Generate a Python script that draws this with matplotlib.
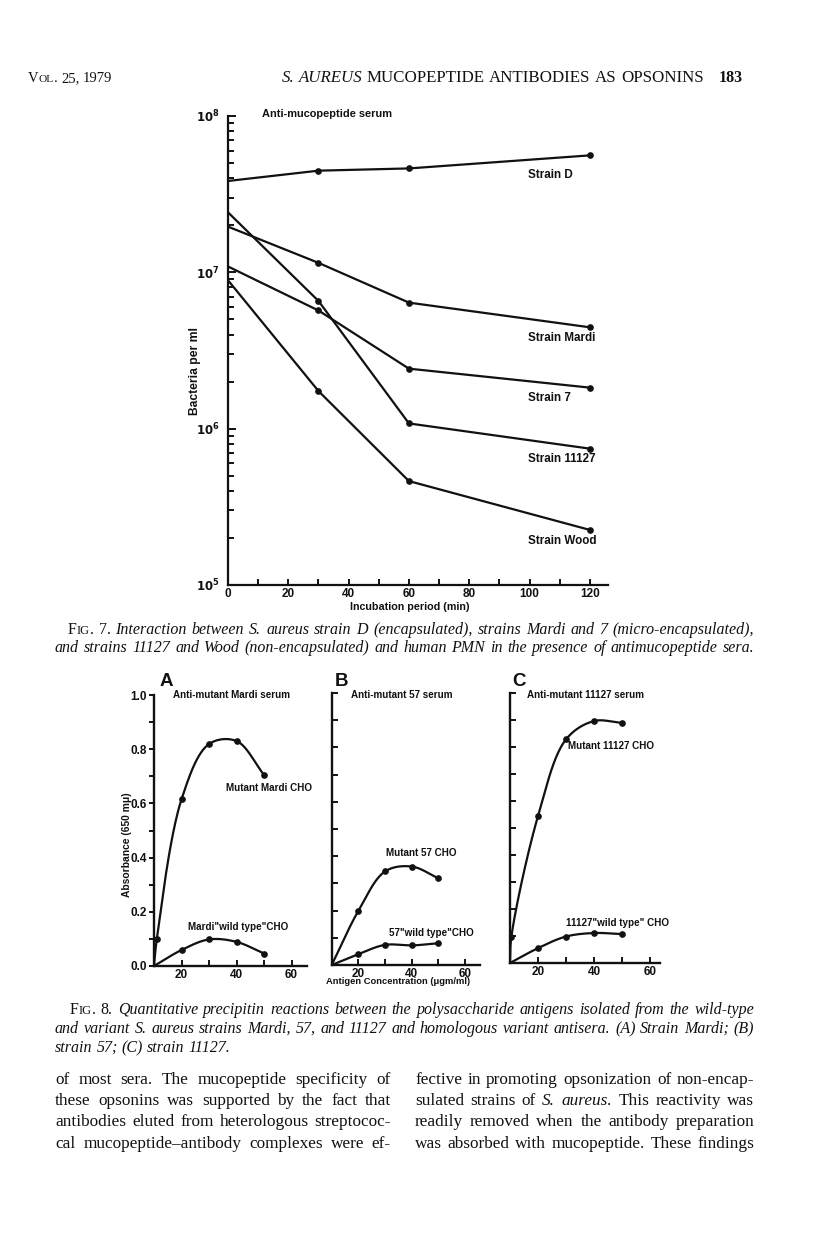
import numpy as np
import matplotlib
matplotlib.use("Agg")
import matplotlib.pyplot as plt
from matplotlib.ticker import FixedLocator, NullFormatter, LogLocator

# ---------------- data ----------------
# Fig. 7: bacteria per ml vs incubation period (min)
fig7_time = [0, 30, 60, 120]
fig7_names = ["Strain D", "Strain Mardi", "Strain 7", "Strain 11127", "Strain Wood"]
strain_d = [3.84e7, 4.47e7, 4.62e7, 5.6e7]
strain_mardi = [1.96e7, 1.15e7, 6.4e6, 4.45e6]
strain_7 = [1.09e7, 5.7e6, 2.42e6, 1.83e6]
strain_11127 = [2.42e7, 6.56e6, 1.08e6, 7.45e5]
strain_wood = [8.9e6, 1.74e6, 4.62e5, 2.25e5]
fig7_xticks = [0, 20, 40, 60, 80, 100, 120]
fig7_yticks = [1e5, 1e6, 1e7, 1e8]
fig7_ylabels = [r"$\mathbf{10^5}$", r"$\mathbf{10^6}$", r"$\mathbf{10^7}$", r"$\mathbf{10^8}$"]

# Fig. 8: absorbance (650 m\u03bc) vs antigen concentration (ugm/ml)
conc = [20, 30, 40, 50]
a_mutant_conc = [11, 20, 30, 40, 50]
a_mutant_abs = [0.098, 0.615, 0.819, 0.830, 0.705]
a_wild_abs = [0.059, 0.098, 0.089, 0.046]
b_mutant_abs = [0.199, 0.344, 0.362, 0.319]
b_wild_abs = [0.040, 0.074, 0.072, 0.080]
c_mutant_conc = [10.5, 20, 30, 40, 50]
c_mutant_abs = [0.098, 0.544, 0.828, 0.896, 0.889]
c_wild_abs = [0.055, 0.098, 0.111, 0.107]
fig8_xticks = [20, 40, 60]
fig8_yticks = [0.0, 0.2, 0.4, 0.6, 0.8, 1.0]
fig8_ylabels = ["0.0", "0.2", "0.4", "0.6", "0.8", "1.0"]

# ---------------- figure ----------------
W, H = 816, 1235
fig = plt.figure(figsize=(W / 100, H / 100), dpi=100)
fig.patch.set_facecolor("white")
renderer = fig.canvas.get_renderer()
SANS = "Liberation Sans"
SERIF = "Liberation Serif"
INK = "#111111"


def box(l, t, r, b):
    return [l / W, 1 - b / H, (r - l) / W, (b - t) / H]


def measure(s, size, **kw):
    t = fig.text(0, 0, s, fontsize=size, **kw)
    w = t.get_window_extent(renderer).width
    t.remove()
    return w


def fit_text(s, x0, x1, yc, **kw):
    size = 10 * (x1 - x0) / measure(s, 10, **kw)
    fig.text((x0 + x1) / 2 / W, 1 - yc / H, s, fontsize=size,
             ha="center", va="center", color=INK, **kw)
    return size


def catmull(ax, xs, ys, n=40, alpha=0.5):
    P = ax.transData.transform(np.column_stack([xs, ys]))
    ext = np.vstack([2 * P[0] - P[1], P, 2 * P[-1] - P[-2]])
    out = []
    for i in range(1, len(ext) - 2):
        p0, p1, p2, p3 = ext[i - 1:i + 3]
        t0 = 0.0
        t1 = t0 + np.linalg.norm(p1 - p0) ** alpha
        t2 = t1 + np.linalg.norm(p2 - p1) ** alpha
        t3 = t2 + np.linalg.norm(p3 - p2) ** alpha
        t = np.linspace(t1, t2, n)[:, None]
        A1 = (t1 - t) / (t1 - t0) * p0 + (t - t0) / (t1 - t0) * p1
        A2 = (t2 - t) / (t2 - t1) * p1 + (t - t1) / (t2 - t1) * p2
        A3 = (t3 - t) / (t3 - t2) * p2 + (t - t2) / (t3 - t2) * p3
        B1 = (t2 - t) / (t2 - t0) * A1 + (t - t0) / (t2 - t0) * A2
        B2 = (t3 - t) / (t3 - t1) * A2 + (t - t1) / (t3 - t1) * A3
        C = (t2 - t) / (t2 - t1) * B1 + (t - t1) / (t2 - t1) * B2
        out.append(C if i == 1 else C[1:])
    return ax.transData.inverted().transform(np.vstack(out))


# ---------------- Fig. 7 ----------------
ax7 = fig.add_axes(box(228, 116, 608, 585))
ax7.set_yscale("log")
ax7.set_xlim(0, 126)
ax7.set_ylim(1e5, 1e8)
for sp in ("top", "right"):
    ax7.spines[sp].set_visible(False)
for sp in ("left", "bottom"):
    ax7.spines[sp].set_linewidth(1.6)
    ax7.spines[sp].set_color(INK)
ax7.xaxis.set_major_locator(FixedLocator(fig7_xticks))
ax7.xaxis.set_minor_locator(FixedLocator([10, 30, 50, 70, 90, 110]))
ax7.yaxis.set_major_locator(FixedLocator(fig7_yticks))
ax7.set_yticklabels(fig7_ylabels)
ax7.yaxis.set_minor_locator(LogLocator(base=10, subs=np.arange(2, 10)))
ax7.yaxis.set_minor_formatter(NullFormatter())
ax7.tick_params(axis="both", which="both", direction="in", width=1.4, color=INK,
                labelsize=8.5, labelcolor=INK)
ax7.tick_params(axis="x", which="both", length=4.5, pad=2.5)
ax7.tick_params(axis="y", which="major", length=6, pad=6)
ax7.tick_params(axis="y", which="minor", length=4.5)
for lab in ax7.get_xticklabels():
    lab.set_fontfamily(SANS)
    lab.set_fontweight("bold")

series7 = [strain_d, strain_mardi, strain_7, strain_11127, strain_wood]
label_drop = [20, 11, 10, 10, 11]
for name, vals, drop in zip(fig7_names, series7, label_drop):
    ax7.plot(fig7_time, vals, color=INK, lw=1.6, marker="o", ms=3.8,
             markevery=[1, 2, 3], solid_joinstyle="miter")
    ax7.annotate(name, xy=(fig7_time[-1], vals[-1]), xytext=(-62, -drop),
                 textcoords="offset pixels", ha="left", va="center",
                 fontsize=8.4, fontweight="bold", family=SANS, color=INK)

fit_text("Anti-mucopeptide serum", 263, 392, 114, family=SANS, fontweight="bold")
fit_text("Incubation period (min)", 350, 470, 607, family=SANS, fontweight="bold")
sz = 10 * 88 / measure("Bacteria per ml", 10, family=SANS, fontweight="bold")
fig.text(195 / W, 1 - 371 / H, "Bacteria per ml", rotation=90, fontsize=sz,
         ha="center", va="center", family=SANS, fontweight="bold", color=INK)

# ---------------- Fig. 8 ----------------
LAB8 = 10 * 117 / measure("Anti-mutant Mardi serum", 10, family=SANS, fontweight="bold")

panels = [
    dict(rect=(154, 695, 306.7, 966), xmax=65.5, letter="A", lx=166,
         title="Anti-mutant Mardi serum", tx=173,
         mut=(a_mutant_conc, a_mutant_abs), wild=a_wild_abs,
         mlab=("Mutant Mardi CHO", 226, 788),
         wlab=('Mardi"wild type"CHO', 188, 927)),
    dict(rect=(331.7, 693, 480, 965), xmax=65.6, letter="B", lx=342,
         title="Anti-mutant 57 serum", tx=351,
         mut=(conc, b_mutant_abs), wild=b_wild_abs,
         mlab=("Mutant 57 CHO", 386, 853),
         wlab=('57"wild type"CHO', 389, 933)),
    dict(rect=(510, 693, 660, 963), xmax=63.6, letter="C", lx=519,
         title="Anti-mutant 11127 serum", tx=527,
         mut=(c_mutant_conc, c_mutant_abs), wild=c_wild_abs,
         mlab=("Mutant 11127 CHO", 568, 746),
         wlab=('11127"wild type" CHO', 566, 923)),
]


def label8(s, x, y):
    fig.text(x / W, 1 - y / H, s, fontsize=LAB8, ha="left", va="center",
             family=SANS, fontweight="bold", color=INK)


for i, p in enumerate(panels):
    l, t, r, b = p["rect"]
    ax = fig.add_axes(box(l, t, r, b))
    ax.set_xlim(10, p["xmax"])
    ax.set_ylim(0, 1.0)
    for sp in ("top", "right"):
        ax.spines[sp].set_visible(False)
    for sp in ("left", "bottom"):
        ax.spines[sp].set_linewidth(1.7)
        ax.spines[sp].set_color(INK)
    ax.xaxis.set_major_locator(FixedLocator(fig8_xticks))
    ax.xaxis.set_minor_locator(FixedLocator([30, 50]))
    ax.yaxis.set_major_locator(FixedLocator(np.round(np.arange(0, 1.01, 0.1), 2)))
    if i == 0:
        ax.set_yticks(fig8_yticks)
        ax.set_yticklabels(fig8_ylabels)
        ax.yaxis.set_minor_locator(FixedLocator([0.1, 0.3, 0.5, 0.7, 0.9]))
        ax.tick_params(axis="y", which="both", direction="out", length=3.5,
                       width=1.3, pad=1.5, labelsize=8.5)
    else:
        ax.tick_params(axis="y", which="both", direction="in", length=4,
                       width=1.3, labelleft=False)
    ax.tick_params(axis="x", which="both", direction="in", length=4, width=1.3,
                   pad=2, labelsize=8.5)
    for lab in ax.get_xticklabels() + ax.get_yticklabels():
        lab.set_fontfamily(SANS)
        lab.set_fontweight("bold")
        lab.set_color(INK)

    # curves start at the origin of the axes (zero absorbance)
    mx, my = p["mut"]
    curve = catmull(ax, [10] + list(mx), [0.0] + list(my))
    ax.plot(curve[:, 0], curve[:, 1], color=INK, lw=1.6)
    ax.plot(mx, my, "o", color=INK, ms=3.8)
    curve = catmull(ax, [10] + conc, [0.0] + list(p["wild"]))
    ax.plot(curve[:, 0], curve[:, 1], color=INK, lw=1.6)
    ax.plot(conc, p["wild"], "o", color=INK, ms=3.8)

    fig.text(p["lx"] / W, 1 - 682 / H, p["letter"], fontsize=13.5, fontweight="bold",
             family=SANS, ha="center", va="center", color=INK)
    label8(p["title"], p["tx"], 694.5)
    label8(*p["mlab"])
    label8(*p["wlab"])

sz = 10 * 104 / measure("Absorbance (650 m\u03bc)", 10, family=SANS, fontweight="bold")
fig.text(127 / W, 1 - 845 / H, "Absorbance (650 m\u03bc)", rotation=90, fontsize=sz,
         ha="center", va="center", family=SANS, fontweight="bold", color=INK)
fit_text("Antigen Concentration (\u03bcgm/ml)", 326, 470, 982, family=SANS, fontweight="bold")

# ---------------- page text ----------------
STYLES = {
    "rm": dict(family=SERIF),
    "it": dict(family=SERIF, style="italic"),
    "sc": dict(family=SERIF),
    "bf": dict(family=SERIF, fontweight="bold"),
}


def word_segments(word, style):
    if style != "sc":
        return [(word, 1.0)]
    segs = [(word[0], 1.0)]
    for c in word[1:]:
        f = 0.78 if c.isalpha() else 1.0
        if segs[-1][1] == f:
            segs[-1] = (segs[-1][0] + c.upper(), f)
        else:
            segs.append((c.upper(), f))
    return segs


def line_words(chunks):
    words = []
    for text, style in chunks:
        for w in text.split():
            words.append((word_segments(w, style), style))
    return words


def space_width(size):
    return measure("a a", size, family=SERIF) - measure("aa", size, family=SERIF)


def natural_width(chunks, size):
    words = line_words(chunks)
    total = 0
    for segs, style in words:
        for s, f in segs:
            total += measure(s, size * f, **STYLES[style])
    return total + space_width(size) * (len(words) - 1)


def draw_line(chunks, x0, x1, ybase, size, justify=True):
    words = line_words(chunks)
    widths = []
    for segs, style in words:
        widths.append([measure(s, size * f, **STYLES[style]) for s, f in segs])
    total = sum(sum(w) for w in widths)
    if justify and len(words) > 1:
        gap = (x1 - x0 - total) / (len(words) - 1)
    else:
        gap = space_width(size)
    x = x0
    for (segs, style), ws in zip(words, widths):
        for (s, f), w in zip(segs, ws):
            fig.text(x / W, 1 - ybase / H, s, fontsize=size * f, ha="left",
                     va="baseline", color=INK, **STYLES[style])
            x += w
        x += gap


def block_size(lines, ref=10.0):
    fits = []
    for chunks, x0, x1, y, just in lines:
        if just:
            fits.append(ref * (x1 - x0) / natural_width(chunks, ref))
    return min(fits) * 0.985


# header
draw_line([("VOL.", "sc"), ("25, 1979", "rm")], 28, 0, 82, 10.5, justify=False)
hdr = [("S. AUREUS", "it"), ("MUCOPEPTIDE ANTIBODIES AS OPSONINS", "rm")]
hs = 10 * (704 - 282) / natural_width(hdr, 10)
draw_line(hdr, 282, 704, 82, hs, justify=False)
draw_line([("183", "bf")], 719, 0, 82, 11.5, justify=False)

# Fig. 7 caption
cap7 = [
    ([("FIG. 7.", "sc"), ("Interaction between S. aureus strain D (encapsulated), strains Mardi and 7 (micro-encapsulated),", "it")], 68, 754, 634, True),
    ([("and strains 11127 and Wood (non-encapsulated) and human PMN in the presence of antimucopeptide sera.", "it")], 55, 754, 652, True),
]
cs = block_size(cap7)
for chunks, x0, x1, y, j in cap7:
    draw_line(chunks, x0, x1, y, cs, j)

# Fig. 8 caption
cap8 = [
    ([("FIG. 8.", "sc"), ("Quantitative precipitin reactions between the polysaccharide antigens isolated from the wild-type", "it")], 70, 754, 1014, True),
    ([("and variant S. aureus strains Mardi, 57, and 11127 and homologous variant antisera. (A) Strain Mardi; (B)", "it")], 55, 754, 1033, True),
    ([("strain 57; (C) strain 11127.", "it")], 55, 754, 1052, False),
]
cs8 = block_size(cap8)
for chunks, x0, x1, y, j in cap8:
    draw_line(chunks, x0, x1, y, cs8, j)

# body text (two justified columns)
body = [
    ([("of most sera. The mucopeptide specificity of", "rm")], 55, 391, 1084, True),
    ([("these opsonins was supported by the fact that", "rm")], 55, 391, 1105, True),
    ([("antibodies eluted from heterologous streptococ-", "rm")], 55, 391, 1126, True),
    ([("cal mucopeptide\u2013antibody complexes were ef-", "rm")], 55, 391, 1148, True),
    ([("fective in promoting opsonization of non-encap-", "rm")], 415, 754, 1084, True),
    ([("sulated strains of", "rm"), ("S. aureus.", "it"), ("This reactivity was", "rm")], 415, 754, 1105, True),
    ([("readily removed when the antibody preparation", "rm")], 415, 754, 1126, True),
    ([("was absorbed with mucopeptide. These findings", "rm")], 415, 754, 1148, True),
]
bs = block_size(body)
for chunks, x0, x1, y, j in body:
    draw_line(chunks, x0, x1, y, bs, j)

fig.savefig("out.png", dpi=100, facecolor="white")
